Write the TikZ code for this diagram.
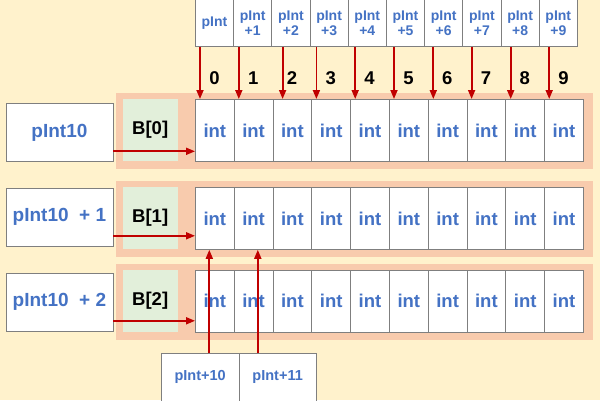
\documentclass[tikz,border=0pt]{standalone}
\usepackage{fontspec}
\setmainfont{Liberation Sans}
\usetikzlibrary{arrows.meta}
\definecolor{bg}{HTML}{FFF2CC}
\definecolor{bandc}{HTML}{F8CBAD}
\definecolor{greenc}{HTML}{E2EFDA}
\definecolor{bluet}{HTML}{4472C4}
\definecolor{redc}{HTML}{C00000}
\definecolor{edge}{HTML}{7F7F7F}
\begin{document}
\begin{tikzpicture}[x=1pt,y=-1pt,
  base/.style={draw=edge, line width=0.8pt, fill=white, inner sep=0pt, anchor=north west},
  cell/.style={base, minimum width=38.8pt, minimum height=62pt, text=bluet,
    font=\bfseries\fontsize{18.5}{20}\selectfont},
  tcell/.style={base, minimum width=38.2pt, minimum height=47pt, text=bluet, align=center,
    font=\bfseries\fontsize{14}{15}\selectfont},
  lbox/.style={base, minimum width=107pt, minimum height=58pt, text=bluet,
    font=\bfseries\fontsize{19}{20}\selectfont},
  bbox/.style={base, minimum width=77.5pt, minimum height=49pt, text=bluet,
    font=\bfseries\fontsize{14.5}{16}\selectfont},
  gbox/.style={fill=greenc, inner sep=0pt, anchor=north west, minimum width=55.4pt,
    minimum height=62pt, font=\bfseries\fontsize{18.5}{20}\selectfont},
  num/.style={font=\bfseries\fontsize{18.5}{20}\selectfont, inner sep=0pt},
  arr/.style={draw=redc, line width=1.8pt, -{Triangle[width=7pt,length=9pt]}}]
\fill[bg] (0,0) rectangle (600,400);
\useasboundingbox (0,0) rectangle (600,400);
% rows
\foreach \r/\y in {0/99,1/187,2/269.5}{
  \fill[bandc] (116,{\y-5.7}) rectangle (593.3,{\y+70.3});
  \node[gbox] (B\r) at (122.3,\y) {B[\r]};
  \foreach \i in {0,...,9}{
    \node[cell] (r\r c\i) at ({195+\i*38.8},\y) {int};
  }
}
% left boxes
\node[lbox] (L0) at (5.5,103) {pInt10};
\node[lbox] (L1) at (5.5,187.5) {pInt10\ \ + 1};
\node[lbox] (L2) at (5.5,272.5) {pInt10\ \ + 2};
\foreach \r in {0,1,2}{
  \coordinate (s\r) at ([yshift=10.5pt]L\r.south east);
  \draw[arr] (s\r) -- (s\r -| r\r c0.west);
}
% top boxes
\node[tcell] (t0) at (195,-1) {pInt};
\foreach \i in {1,...,9}{
  \node[tcell] (t\i) at ({195+\i*38.2},-1) {pInt\\+\i};
}
\foreach \i/\dx in {0/5,1/5,2/10,3/5,4/5,5/5,6/5.5,7/5,8/5.3,9/5}{
  \node[num] (n\i) at ({214.4+\i*38.8},78) {\i};
  \coordinate (a\i) at ([xshift=\dx pt]r0c\i.north west);
  \draw[arr] (a\i |- t\i.south) -- (a\i);
}
% bottom boxes
\node[bbox] (P0) at (161,352.5) {pInt+10};
\node[bbox] (P1) at (238.5,352.5) {pInt+11};
\coordinate (u0) at ([xshift=14.3pt]r1c0.south west);
\coordinate (u1) at ([xshift=24pt]r1c1.south west);
\draw[arr] (u0 |- P0.north) -- (u0);
\draw[arr] (u1 |- P1.north) -- (u1);
\end{tikzpicture}
\end{document}
